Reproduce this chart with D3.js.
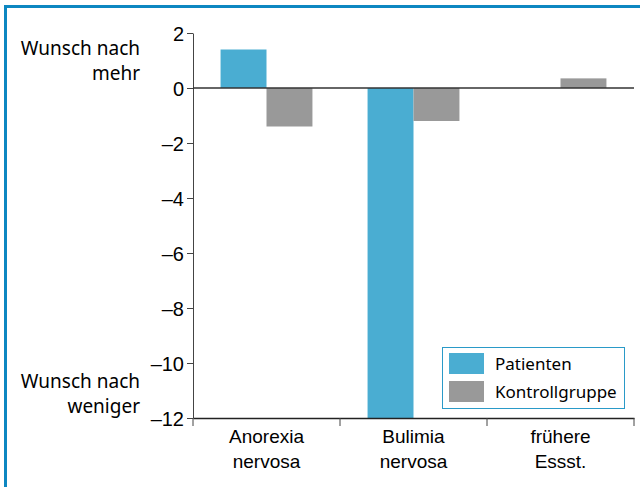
<!DOCTYPE html>
<html>
<head>
<meta charset="utf-8">
<script src="https://cdn.jsdelivr.net/npm/d3@7"></script>
<style>
  body { margin: 0; background: #fff; }
  svg { display: block; font-family: "Noto Sans", sans-serif; }
</style>
</head>
<body>
<svg width="640" height="487"></svg>
<script>
const categories = [['Anorexia', 'nervosa'], ['Bulimia', 'nervosa'], ['frühere', 'Essst.']];
const series = ['Patienten', 'Kontrollgruppe'];
const patienten = [1.4, -12, 0];
const kontrolle = [-1.4, -1.2, 0.35];
const yTicks = [2, 0, -2, -4, -6, -8, -10, -12];
const colors = ['#4aadd2', '#999999'];

const svg = d3.select('svg');
const margin = {left: 193, top: 33, right: 6, bottom: 69};
const width = +svg.attr('width');
const height = +svg.attr('height');
const innerWidth = width - margin.left - margin.right;
const innerHeight = height - margin.top - margin.bottom;

// Rahmen
svg.append('path')
  .attr('d', `M5.5,${height} V6.5 H${width}`)
  .attr('fill', 'none')
  .attr('stroke', '#0d87c1')
  .attr('stroke-width', 3);

const g = svg.append('g').attr('transform', `translate(${margin.left},${margin.top})`);

const catKeys = categories.map(c => c.join(' '));
const xScale = d3.scaleBand().domain(catKeys).range([0, innerWidth]);
const xInner = d3.scaleBand().domain(series).range([0, xScale.bandwidth()]).paddingOuter(0.6).paddingInner(0);
const yScale = d3.scaleLinear().domain([-12, 2]).range([innerHeight, 0]);

const rows = catKeys.map((k, i) => ({key: k, values: [patienten[i], kontrolle[i]]}));

g.selectAll('g.grp').data(rows).enter().append('g')
  .attr('transform', d => `translate(${xScale(d.key)},0)`)
  .selectAll('rect').data(d => d.values.map((v, j) => ({s: series[j], v, j})))
  .enter().append('rect')
  .attr('x', d => xInner(d.s))
  .attr('width', xInner.bandwidth())
  .attr('y', d => yScale(Math.max(0, d.v)))
  .attr('height', d => Math.abs(yScale(d.v) - yScale(0)))
  .attr('fill', d => colors[d.j]);

// y-Achse
const fmt = d => d < 0 ? '\u2013' + Math.abs(d) : String(d);
const yAxis = g.append('g').call(d3.axisLeft(yScale).tickValues(yTicks).tickFormat(fmt).tickSize(6).tickSizeOuter(0));
yAxis.select('.domain').attr('stroke', '#444');
yAxis.selectAll('line').attr('stroke', '#444');
yAxis.selectAll('text').attr('font-size', 20).attr('fill', '#000').attr('dy', '0.36em').attr('x', -9);

// Nulllinie
g.append('line')
  .attr('x1', 0).attr('x2', innerWidth)
  .attr('y1', yScale(0)).attr('y2', yScale(0))
  .attr('stroke', '#333').attr('stroke-width', 1.5);

// x-Achse
const xAxis = g.append('g').attr('transform', `translate(0,${innerHeight})`)
  .call(d3.axisBottom(xScale).tickSize(0).tickFormat(''));
xAxis.select('.domain').attr('stroke', '#222').attr('stroke-width', 1.5);
const bounds = [0, ...catKeys.map(k => xScale(k) + xScale.bandwidth())];
xAxis.selectAll('line.sep').data(bounds).enter().append('line')
  .attr('class', 'sep')
  .attr('x1', d => d).attr('x2', d => d)
  .attr('y1', 0).attr('y2', 8)
  .attr('stroke', '#444');
categories.forEach((c, i) => {
  const cx = xScale(catKeys[i]) + xScale.bandwidth() / 2;
  const t = xAxis.append('text')
    .attr('text-anchor', 'middle')
    .attr('font-size', 19)
    .attr('fill', '#000');
  c.forEach((line, j) => t.append('tspan').attr('x', cx).attr('y', 25 + j * 25).text(line));
});

// Beschriftung links
const sideLabels = [[['Wunsch nach', 'mehr'], 55], [['Wunsch nach', 'weniger'], 388]];
sideLabels.forEach(([lines, y]) => {
  const t = svg.append('text').attr('text-anchor', 'end').attr('font-size', 19).attr('fill', '#000');
  lines.forEach((l, j) => t.append('tspan').attr('x', 140).attr('y', y + j * 25).text(l));
});

// Legende
const lg = svg.append('g').attr('transform', 'translate(442,347)');
lg.append('rect').attr('x', 0.5).attr('y', 0.5).attr('width', 182).attr('height', 61)
  .attr('fill', '#fff').attr('stroke', '#2a9ac8');
series.forEach((s, i) => {
  lg.append('rect').attr('x', 7).attr('y', 6 + i * 28).attr('width', 35).attr('height', 21).attr('fill', colors[i]);
  lg.append('text').attr('x', 53).attr('y', 23 + i * 28).attr('font-size', 17).attr('fill', '#000').text(s);
});
</script>
</body>
</html>
